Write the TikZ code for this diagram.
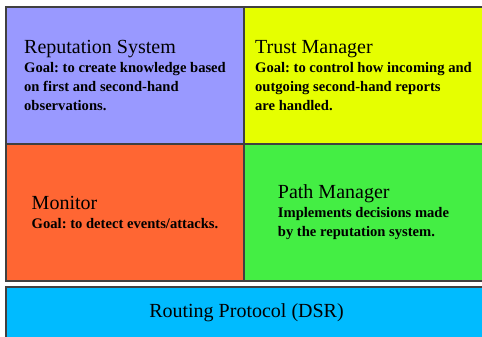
\documentclass[tikz,border=0pt]{standalone}
\usepackage{fontspec}
\setmainfont{Liberation Serif}
\usetikzlibrary{positioning}
\frenchspacing

\definecolor{repcol}{HTML}{9999FF}
\definecolor{trustcol}{HTML}{E6FF00}
\definecolor{moncol}{HTML}{FF6633}
\definecolor{pathcol}{HTML}{44EE44}
\definecolor{routecol}{HTML}{00BBFF}
\definecolor{boxline}{HTML}{404040}

\newcommand{\boxtitle}[1]{{\fontsize{20}{21}\selectfont\mdseries #1}}

\begin{document}
\begin{tikzpicture}[x=1pt,y=1pt,node distance=0pt,
                    layer box/.style={draw=boxline,line width=1.2pt,outer sep=0pt,inner sep=0pt,
                      minimum width=238pt,minimum height=137pt,align=left,
                      font=\fontsize{14.6}{19}\selectfont\bfseries}]
  \useasboundingbox (0,0) rectangle (482,337);
  \clip (0,0) rectangle (482,337);

  \node[layer box,fill=repcol,anchor=north west] (rep) at (6,330)
    {\boxtitle{Reputation System}\\Goal: to create knowledge based\\on first and second-hand\\observations.};
  \node[layer box,fill=trustcol,minimum width=239pt] (trust) [right=of rep]
    {\boxtitle{Trust Manager}\\Goal: to control how incoming and\\outgoing second-hand reports\\are handled.};
  \node[layer box,fill=moncol] (mon) [below=of rep]
    {\boxtitle{Monitor}\\Goal: to detect events/attacks.};
  \node[layer box,fill=pathcol,minimum width=239pt] (path) [below=of trust]
    {\boxtitle{Path Manager}\\Implements decisions made\\by the reputation system.};
  \node[layer box,fill=routecol,minimum width=481pt,minimum height=52pt]
    (route) [below right=6pt and 0pt of mon.south west]
    {\boxtitle{Routing Protocol (DSR)}};
\end{tikzpicture}
\end{document}
